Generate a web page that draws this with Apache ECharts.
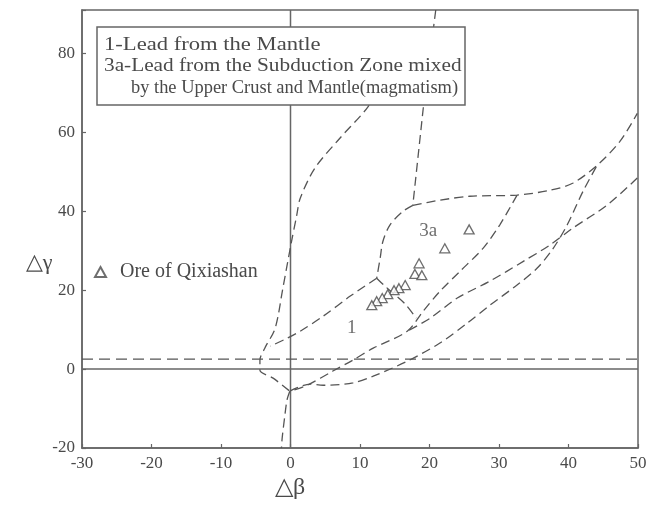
<!DOCTYPE html>
<html><head><meta charset="utf-8">
<script src="https://cdn.jsdelivr.net/npm/echarts@6/dist/echarts.min.js"></script>
<style>html,body{margin:0;padding:0;background:#fff}#c{width:650px;height:506px}</style>
</head><body><div id="c"></div>
<script>
// tick labels
const xTickLabels = [-30, -20, -10, 0, 10, 20, 30, 40, 50];
const yTickLabels = [-20, 0, 20, 40, 60, 80];

// Ore of Qixiashan samples (Δβ, Δγ)
const oreX = [25.7, 22.2, 18.5, 17.9, 18.9, 16.5, 15.6, 14.9, 14.0, 13.2, 12.4, 11.7];
const oreY = [35.4, 30.6, 26.8, 24.1, 23.8, 21.3, 20.5, 20.0, 19.0, 18.0, 17.2, 16.2];

// field boundary curves (Δβ, Δγ)
const lineA = [[14.3,76.2],[11.2,66.6],[7.1,58.5],[3.5,50.9],[1.4,43.3],[0.9,39.0],[0.1,31.9],[-1.1,20.5],[-2.2,10.4],[-3.7,5.3],[-4.4,2.3],[-4.4,-0.3],[-2.5,-2.3],[-0.1,-5.6]];
const lineB = [[20.9,91],[19.1,66.1],[17.6,41.5]];
const lineC = [[17.6,41.5],[21.5,42.8],[25.8,43.8],[32.6,44.1],[37.3,45.3],[40.6,47.1],[44.1,51.6],[47.4,57.7],[49.9,64.8]];
const lineD = [[17.6,41.5],[16.2,40.0],[14.3,36.5],[13.3,32.4],[12.9,28.1],[12.4,23.0]];
const lineF = [[12.4,23.0],[13.6,21.0],[16.5,16.5],[18.1,12.9]];
const lineE = [[12.4,23.0],[8.6,18.5],[4.7,13.4],[1.4,9.6],[-0.5,7.8],[-2.9,5.8]];
const lineG = [[32.6,44.1],[30.1,36.5],[27.7,30.6],[24.4,24.8],[21.5,19.7],[19.1,14.7],[16.8,9.6],[11.9,5.3],[9.0,2.3],[6.1,-0.5],[2.4,-4.1],[-0.1,-5.6]];
const lineI = [[49.9,48.4],[45.5,41.5],[40.6,35.7],[37.3,31.4],[33.5,27.3],[28.7,22.3],[24.0,18.0],[20.1,12.9],[16.8,9.6]];
const lineH = [[-0.1,-5.6],[2.8,-3.8],[4.7,-4.1],[9.0,-3.5],[11.9,-1.8],[16.8,2.0],[21.5,6.6],[25.4,11.6],[28.7,16.2],[32.6,21.3],[35.5,25.6],[37.8,30.6],[39.8,36.5],[42.1,45.1],[44.1,51.6]];
const lineJ = [[-0.1,-5.6],[-0.5,-7.8],[-0.8,-11.6],[-1.2,-17.5],[-1.3,-20]];
const dashedLevel = [[-30,2.5],[50,2.5]];
const zeroV = [[0,-20],[0,91]];
const zeroH = [[-30,0],[50,0]];

const fieldLabels = [{name:'3a', value:[19.8,35.0]}, {name:'1', value:[8.8,10.4]}];
const legendLines = ['1-Lead from the Mantle', '3a-Lead from the Subduction Zone mixed', 'by the Upper Crust and Mantle(magmatism)'];

const SERIF = 'Liberation Serif';
const INK = '#4a4a4a';
const dash = {type:[9,5], width:1.3, color:'#555'};

function boundary(d, sm){
  return {type:'line', data:d, symbol:'none', smooth:sm, silent:true, lineStyle:dash, z:3};
}

const chart = echarts.init(document.getElementById('c'));
chart.setOption({
  backgroundColor:'#fff',
  animation:false,
  grid:{left:82, right:12, top:10, bottom:58, show:true, borderColor:'#666', borderWidth:1.5},
  xAxis:{type:'value', min:-30, max:50, interval:10,
    axisLine:{show:true, onZero:false, lineStyle:{color:'#666', width:1.5}},
    axisTick:{show:true, inside:true, length:4, lineStyle:{color:'#666', width:1.2}},
    splitLine:{show:false},
    axisLabel:{fontFamily:SERIF, fontSize:17, color:INK, margin:7,
      formatter:v => xTickLabels.includes(v) ? String(v) : ''}},
  yAxis:{type:'value', min:-20, max:91, interval:20,
    axisLine:{show:true, onZero:false, lineStyle:{color:'#666', width:1.5}},
    axisTick:{show:true, inside:true, length:4, lineStyle:{color:'#666', width:1.2}},
    splitLine:{show:false},
    axisLabel:{fontFamily:SERIF, fontSize:17, color:INK, margin:7,
      formatter:v => yTickLabels.includes(v) ? String(v) : ''}},
  legend:{left:89, top:257, data:['Ore of Qixiashan'], icon:'triangle', itemWidth:11, itemHeight:10,
    textStyle:{fontFamily:SERIF, fontSize:20, color:INK, padding:[0,0,0,9]}},
  series:[
    {type:'line', data:zeroV, symbol:'none', silent:true, lineStyle:{color:'#666', width:1.5}, z:2},
    {type:'line', data:zeroH, symbol:'none', silent:true, lineStyle:{color:'#666', width:1.5}, z:2},
    {type:'line', data:dashedLevel, symbol:'none', silent:true, lineStyle:{type:[11,6], width:1.3, color:'#555'}, z:2},
    boundary(lineA, 0.3), boundary(lineB, 0), boundary(lineC, 0.3), boundary(lineD, 0.3),
    boundary(lineF, 0.2), boundary(lineE, 0.3), boundary(lineG, 0.3), boundary(lineI, 0.3),
    boundary(lineH, 0.3), boundary(lineJ, 0.3),
    {name:'Ore of Qixiashan', type:'scatter', data:oreX.map((x,i)=>[x, oreY[i]]), symbol:'triangle', symbolSize:[10,9],
      itemStyle:{color:'#fff', borderColor:'#4a4a4a', borderWidth:1.3}, z:10},
    {type:'scatter', data:fieldLabels, symbolSize:0, silent:true, z:11,
      label:{show:true, position:'inside', formatter:p => p.name, fontFamily:SERIF, fontSize:19, color:INK}}
  ],
  graphic:[
    {type:'rect', z:100, shape:{x:97, y:27, width:368, height:78}, style:{fill:'#fff', stroke:'#666', lineWidth:1.5}},
    {type:'text', z:101, x:104, y:45, scaleX:1.19, style:{text:legendLines[0], font:'19px "Liberation Serif"', fill:INK, verticalAlign:'middle'}},
    {type:'text', z:101, x:104, y:66, scaleX:1.12, style:{text:legendLines[1], font:'19px "Liberation Serif"', fill:INK, verticalAlign:'middle'}},
    {type:'text', z:101, x:131, y:88, scaleX:0.97, style:{text:legendLines[2], font:'19px "Liberation Serif"', fill:INK, verticalAlign:'middle'}},
    {type:'text', z:101, x:290, y:488, style:{text:'△β', font:'24px "Liberation Serif"', fill:INK, align:'center', verticalAlign:'middle'}},
    {type:'text', z:101, x:39, y:263, style:{text:'△γ', font:'22px "Liberation Serif"', fill:INK, align:'center', verticalAlign:'middle'}}
  ]
});
</script></body></html>
